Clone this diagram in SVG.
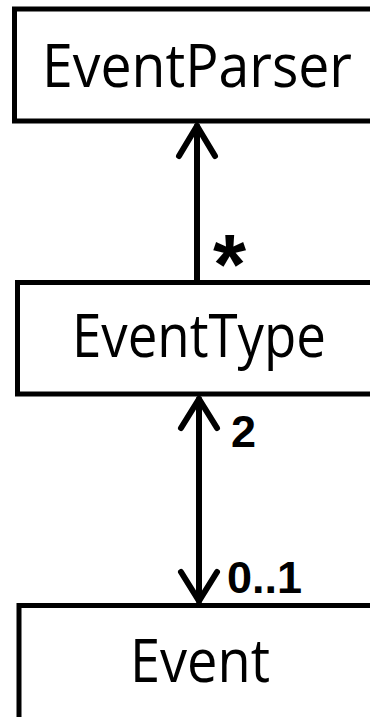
<svg xmlns="http://www.w3.org/2000/svg" width="370" height="717" viewBox="0 0 370 717">
<style>
.box{fill:#fff;stroke:#000;stroke-width:5}
.name{font-family:"Open Sans","Liberation Sans",sans-serif;font-size:60px;fill:#000}
.lbl{font-family:"Liberation Sans",Arial,sans-serif;font-weight:bold;fill:#000}
.ln{stroke:#000;stroke-width:6;fill:none;stroke-linecap:round;stroke-linejoin:round}
</style>
<rect width="370" height="717" fill="#fff"/>
<g id="EventParser">
<rect class="box" x="14.5" y="9" width="400" height="112"/>
<text class="name" x="42" y="87" textLength="310" lengthAdjust="spacingAndGlyphs">EventParser</text>
</g>
<g id="EventType">
<rect class="box" x="17.5" y="282.5" width="400" height="111.5"/>
<text class="name" x="72" y="357" textLength="254" lengthAdjust="spacingAndGlyphs">EventType</text>
</g>
<g id="Event">
<rect class="box" x="19" y="605.5" width="400" height="150"/>
<text class="name" x="130" y="682" textLength="140" lengthAdjust="spacingAndGlyphs">Event</text>
</g>
<g id="connectors">
<path class="ln" d="M197 126 L197 280"/>
<path class="ln" stroke-width="7" d="M179 156 L197 126 L215 156"/>
<text class="lbl" x="213" y="294" font-size="85">*</text>
<path class="ln" d="M199 399 L199 601"/>
<path class="ln" stroke-width="7" d="M181 428 L199 399 L217 428"/>
<path class="ln" stroke-width="7" d="M181 572 L199 601 L217 572"/>
<text class="lbl" x="231" y="447" font-size="45">2</text>
<text class="lbl" x="227" y="593" font-size="45">0..1</text>
</g>
</svg>
